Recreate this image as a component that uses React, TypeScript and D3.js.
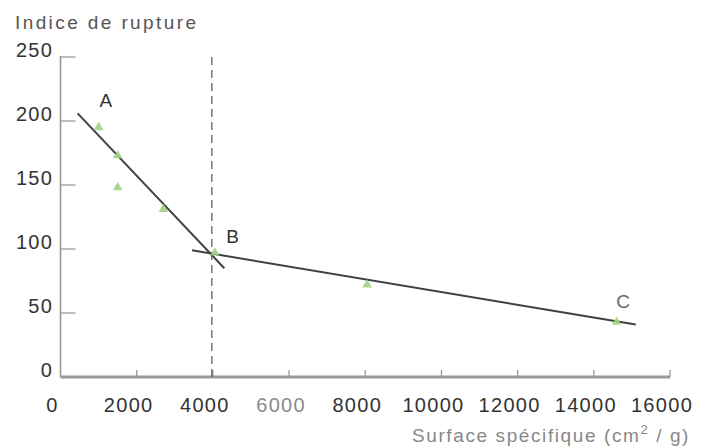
import React from "react";
import * as d3 from "d3";

const xTicks = [0, 2000, 4000, 6000, 8000, 10000, 12000, 14000, 16000];
const yTicks = [0, 50, 100, 150, 200, 250];

// measured points (surface spécifique, indice de rupture)
const pointsX = [1000, 1500, 1500, 2700, 4050, 8050, 14600];
const pointsY = [195, 173, 148, 131, 97, 72, 43];

// fitted line segments
const lineABX = [450, 4300];
const lineABY = [206, 85];
const lineBCX = [3450, 15100];
const lineBCY = [99, 41];

const breakX = 4000;

const labelNames = ["A", "B", "C"];
const labelX = [1190, 4520, 14770];
const labelY = [211, 105, 54];

const W = 702;
const H = 448;

export default function App() {
  const x = d3.scaleLinear().domain([0, 16000]).range([60.5, 670]);
  const y = d3.scaleLinear().domain([0, 250]).range([377, 57]);

  const line = d3
    .line<[number, number]>()
    .x((d) => x(d[0]))
    .y((d) => y(d[1]));

  const ab: [number, number][] = lineABX.map((v, i) => [v, lineABY[i]]);
  const bc: [number, number][] = lineBCX.map((v, i) => [v, lineBCY[i]]);

  const tri = d3.symbol().type(d3.symbolTriangle).size(40)();

  const font = "'Liberation Sans', Arial, Helvetica, sans-serif";

  return (
    <svg
      width={W}
      height={H}
      style={{ position: "absolute", left: 0, top: 0, background: "#fff" }}
      fontFamily={font}
    >
      <rect width={W} height={H} fill="#fff" />
      {/* y axis title */}
      <text x={15} y={29} fontSize={19} fill="#555" letterSpacing={2.4}>
        Indice de rupture
      </text>

      {/* y axis */}
      <line x1={x(0)} x2={x(0)} y1={y(250) - 1} y2={y(0)} stroke="#999" strokeWidth={1.6} />
      {yTicks.map((t) => (
        <g key={"y" + t}>
          {t > 0 && (
            <line x1={x(0)} x2={x(0) + 15} y1={y(t)} y2={y(t)} stroke="#999" strokeWidth={1.3} />
          )}
          <text x={53} y={y(t)} fontSize={20} fill="#333" textAnchor="end" letterSpacing={1.2}>
            {t}
          </text>
        </g>
      ))}

      {/* x axis */}
      <line x1={x(0)} x2={x(16000)} y1={y(0)} y2={y(0)} stroke="#9a9a9a" strokeWidth={3} />
      {xTicks.map((t) => (
        <g key={"x" + t}>
          {t > 0 && (
            <line x1={x(t)} x2={x(t)} y1={y(0)} y2={y(0) - 7} stroke="#999" strokeWidth={1.3} />
          )}
          <text
            x={x(t) - 8}
            y={412}
            fontSize={20}
            fill={t === 6000 ? "#8a8a8a" : "#333"}
            textAnchor="middle"
            letterSpacing={1.3}
          >
            {t}
          </text>
        </g>
      ))}
      <text x={690} y={442} fontSize={19} fill="#888" textAnchor="end" letterSpacing={1.6}>
        Surface spécifique (cm
        <tspan fontSize={13} dy={-8}>2</tspan>
        <tspan dy={8}> / g)</tspan>
      </text>

      {/* dashed vertical line */}
      <line
        x1={x(breakX) - 1}
        x2={x(breakX) - 1}
        y1={y(250)}
        y2={y(0)}
        stroke="#333"
        strokeWidth={1}
        strokeDasharray="8,5"
      />

      {/* fitted lines */}
      <path d={line(ab) || ""} fill="none" stroke="#404040" strokeWidth={2} />
      <path d={line(bc) || ""} fill="none" stroke="#404040" strokeWidth={2} />

      {/* points */}
      {pointsX.map((px, i) => (
        <path
          key={"p" + i}
          d={tri || ""}
          transform={`translate(${x(px)},${y(pointsY[i])})`}
          fill="#9fd27f"
          opacity={0.9}
        />
      ))}

      {/* labels */}
      {labelNames.map((n, i) => (
        <text
          key={n}
          x={x(labelX[i])}
          y={y(labelY[i])}
          fontSize={19}
          textAnchor="middle"
          fill={n === "C" ? "#666" : "#333"}
        >
          {n}
        </text>
      ))}
    </svg>
  );
}
